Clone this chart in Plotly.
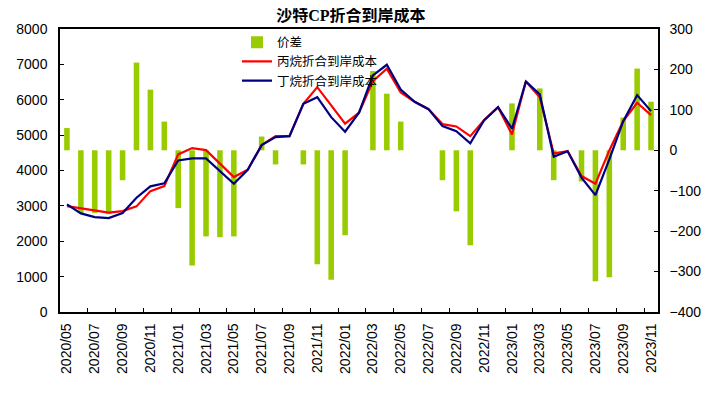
import plotly.graph_objects as go

months = [
    "2020/05", "2020/06", "2020/07", "2020/08", "2020/09", "2020/10", "2020/11", "2020/12",
    "2021/01", "2021/02", "2021/03", "2021/04", "2021/05", "2021/06", "2021/07", "2021/08",
    "2021/09", "2021/10", "2021/11", "2021/12",
    "2022/01", "2022/02", "2022/03", "2022/04", "2022/05", "2022/06", "2022/07", "2022/08",
    "2022/09", "2022/10", "2022/11", "2022/12",
    "2023/01", "2023/02", "2023/03", "2023/04", "2023/05", "2023/06", "2023/07", "2023/08",
    "2023/09", "2023/10", "2023/11",
]

spread = [
    55, -155, -155, -158, -74, 217, 150, 71,
    -143, -285, -213, -215, -213, 0, 34, -35,
    0, -35, -282, -320,
    -210, 0, 196, 140, 71, 0, 0, -74,
    -151, -235, 0, 0,
    116, 0, 153, -74, 0, -77, -324, -314,
    81, 202, 120,
]

propane = [
    2994, 2929, 2853, 2808, 2853, 2986, 3418, 3559,
    4455, 4633, 4576, 4192, 3814, 4022, 4718, 4972,
    4970, 5887, 6356, 5839,
    5322, 5633, 6525, 6876, 6205, 5943, 5734, 5311,
    5246, 4972, 5424, 5791,
    5020, 6517, 6073, 4483, 4548, 3842, 3627, 4568,
    5395, 5915, 5565,
]

butane = [
    3042, 2788, 2684, 2655, 2797, 3231, 3551, 3636,
    4285, 4342, 4342, 3983, 3627, 4022, 4718, 4944,
    4970, 5887, 6073, 5508,
    5096, 5633, 6686, 6989, 6291, 5943, 5734, 5254,
    5113, 4766, 5424, 5791,
    5181, 6517, 6150, 4390, 4548, 3797, 3305, 4314,
    5395, 6130, 5678,
]

tick_labels = months[::2]

names = ["价差", "丙烷折合到岸成本", "丁烷折合到岸成本"]
colors = ["#99CC00", "#FF0000", "#000080"]

axis_font = dict(family="Liberation Sans, Arial, sans-serif", size=14, color="#000000")

fig = go.Figure()
fig.add_trace(go.Bar(x=months, y=spread, name=names[0], marker_color=colors[0],
                     marker_line_width=0, yaxis="y"))
fig.add_trace(go.Scatter(x=months, y=propane, name=names[1], mode="lines",
                         line=dict(color=colors[1], width=2.2), yaxis="y2"))
fig.add_trace(go.Scatter(x=months, y=butane, name=names[2], mode="lines",
                         line=dict(color=colors[2], width=2.2), yaxis="y2"))

# page body has an 8px margin, so the figure is sized to fit the 712x393 window
fig.update_layout(
    width=704, height=385,
    margin=dict(l=52, r=54, t=21, b=81),
    paper_bgcolor="white", plot_bgcolor="white",
    bargap=0.6,
    title=dict(text="<b>沙特CP折合到岸成本</b>", x=0.487, xanchor="center", y=0.98, yanchor="middle",
               font=dict(family="Liberation Serif, Noto Sans CJK SC, serif", size=16, color="#000000")),
    xaxis=dict(type="category", tickmode="array", tickvals=tick_labels, ticktext=tick_labels,
               tickson="boundaries", ticks="inside", ticklen=4, tickcolor="#000000",
               tickangle=-90, showline=True, linecolor="#000000", linewidth=1.5, mirror=True,
               showgrid=False, range=[-0.5, len(months) - 0.5], ticklabelstandoff=4,
               automargin=False,
               tickfont=dict(family="Liberation Sans, Arial, sans-serif", size=14, color="#000000")),
    yaxis=dict(range=[-400, 300], dtick=100, side="right", ticks="inside", ticklen=4,
               tickcolor="#000000", showline=True, linecolor="#000000", linewidth=1.5,
               showgrid=False, zeroline=False, tickfont=axis_font, ticklabelstandoff=7,
               automargin=False),
    yaxis2=dict(range=[0, 8000], dtick=1000, side="left", overlaying="y", ticks="inside",
                ticklen=4, tickcolor="#000000", showline=True, linecolor="#000000", linewidth=1.5,
                showgrid=False, zeroline=False, tickfont=axis_font, ticklabelstandoff=8,
                automargin=False),
    legend=dict(x=0.296, y=1.005, xanchor="left", yanchor="top", bgcolor="rgba(0,0,0,0)",
                font=dict(family="Liberation Sans, Noto Sans CJK SC, sans-serif", size=12.5, color="#000000"),
                tracegroupgap=0, itemwidth=30),
    showlegend=True,
)

fig.write_html("out.html")
